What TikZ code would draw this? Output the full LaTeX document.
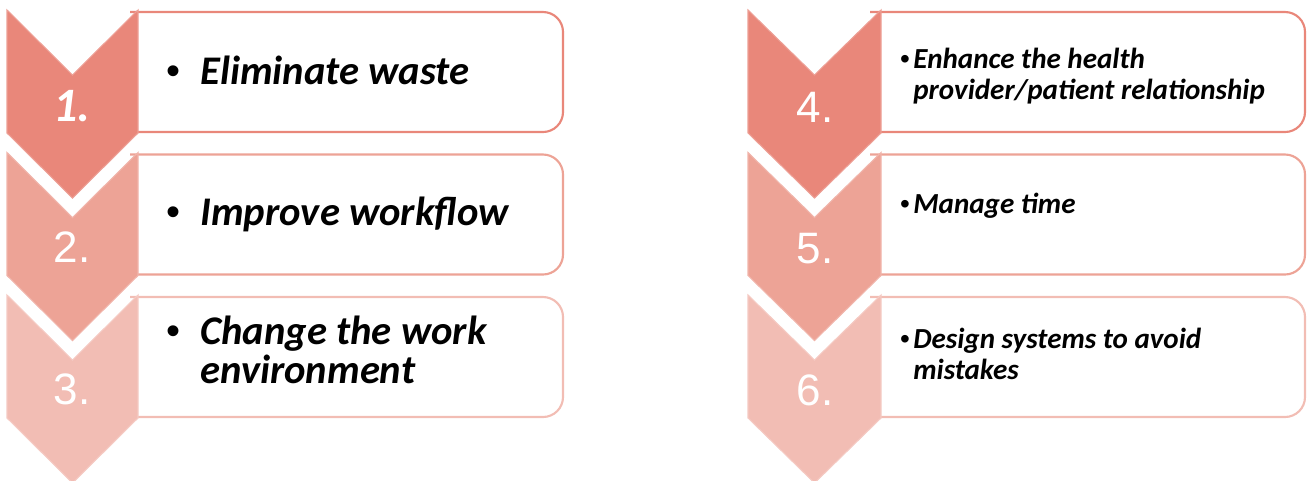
\documentclass[tikz,border=0pt]{standalone}
\usepackage{fontspec}
\setmainfont{Carlito}
\newfontfamily\arialfont{Liberation Sans}
\definecolor{tintA}{HTML}{E9877A}
\definecolor{tintB}{HTML}{EDA396}
\definecolor{tintC}{HTML}{F2BDB4}
\tikzset{
  chev/.style={fill=#1, draw=#1!80!white, line width=0.8pt, line join=miter},
  itembox/.style={draw=#1, line width=1.6pt, rounded corners=15pt},
  bigtext/.style={font=\fontsize{30.5}{29}\selectfont\bfseries\itshape, inner sep=0pt, anchor=base west, align=left},
  smalltext/.style={font=\fontsize{21.8}{23.25}\selectfont\bfseries\itshape, inner sep=0pt, anchor=base west, align=left},
  bigbullet/.style={font=\arialfont\fontsize{30}{34}\selectfont, inner sep=0pt, anchor=base},
  smallbullet/.style={font=\arialfont\fontsize{21}{24}\selectfont, inner sep=0pt, anchor=base},
  numA/.style={font=\fontsize{36}{40}\selectfont\bfseries\itshape, text=white, inner sep=0pt},
  numB/.style={font=\arialfont\fontsize{33}{36}\selectfont, text=white, inner sep=0pt}
}
\begin{document}
\begin{tikzpicture}[x=0.75pt,y=-0.75pt]
\useasboundingbox (0,0) rectangle (1313,480);

% item boxes (left end meets the chevron)
\draw[itembox=tintA] (130,12) -- (563,12) -- (563,132) -- (130,132);
\draw[itembox=tintB] (130,154.5) -- (563,154.5) -- (563,274.5) -- (130,274.5);
\draw[itembox=tintC] (130,297) -- (563,297) -- (563,417) -- (130,417);
\draw[itembox=tintA] (870,12) -- (1305,12) -- (1305,132) -- (870,132);
\draw[itembox=tintB] (870,154.5) -- (1305,154.5) -- (1305,274.5) -- (870,274.5);
\draw[itembox=tintC] (870,297) -- (1305,297) -- (1305,417) -- (870,417);

% chevrons, left column
\foreach \t/\c in {10/tintA, 152.5/tintB, 295/tintC}{
  \draw[chev=\c] (7,\t) -- (72.5,\t+65) -- (138,\t) -- (138,\t+123)
     -- (72.5,\t+188) -- (7,\t+123) -- cycle;
}
% chevrons, right column
\foreach \t/\c in {10/tintA, 152.5/tintB, 295/tintC}{
  \draw[chev=\c] (748,\t) -- (814.5,\t+65) -- (881,\t) -- (881,\t+123)
     -- (814.5,\t+188) -- (748,\t+123) -- cycle;
}

% step numbers
\node[numA] (n1) at (72,106) {1.};
\node[numB] (n2) at (72,247) {2.};
\node[numB] (n3) at (72,389) {3.};
\node[numB] (n4) at (815,107) {4.};
\node[numB] (n5) at (815,249) {5.};
\node[numB] (n6) at (815,390) {6.};

% left column texts (multi-line nodes are placed by their last baseline)
\node[bigbullet] (b1) at (173,84) {•};
\node[bigtext] (t1) at (200,84) {Eliminate waste};
\node[bigbullet] (b2) at (173,225) {•};
\node[bigtext] (t2) at (200,225) {Improve workflow};
\node[bigbullet] (b3) at (173,344) {•};
\node[bigtext] (t3) at (200,383) {Change the work\\environment};

% right column texts
\node[smallbullet] (b4) at (905,68) {•};
\node[smalltext] (t4) at (913,99) {Enhance the health\\provider/patient relationship};
\node[smallbullet] (b5) at (905,213) {•};
\node[smalltext] (t5) at (913,213) {Manage time};
\node[smallbullet] (b6) at (905,348) {•};
\node[smalltext] (t6) at (913,379) {Design systems to avoid\\mistakes};
\end{tikzpicture}
\end{document}
